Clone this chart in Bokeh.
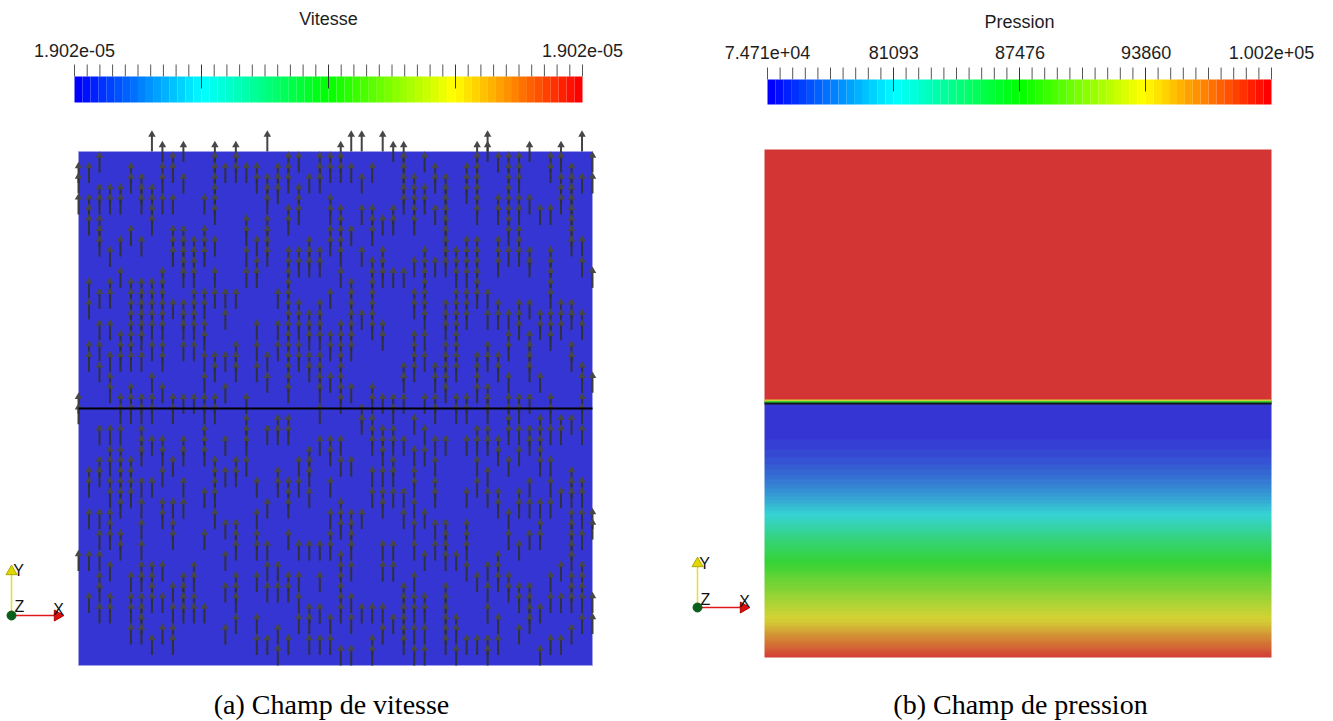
import colorsys
import numpy as np
from bokeh.plotting import figure
from bokeh.models import Range1d, LinearColorMapper
from bokeh.layouts import row
from bokeh.embed import file_html
from bokeh.resources import INLINE
from bokeh.core.properties import value

# ---------------- data ----------------
vitesse_title = "Vitesse"
vitesse_min = 1.902e-05
vitesse_max = 1.902e-05
vitesse_tick_fracs = [0.0, 1.0]
vitesse_tick_labels = ["1.902e-05", "1.902e-05"]

pression_title = "Pression"
pression_min = 74710.0
pression_max = 100200.0
pression_tick_values = [74710.0, 81093.0, 87476.0, 93860.0, 100200.0]
pression_tick_labels = ["7.471e+04", "81093", "87476", "93860", "1.002e+05"]

captions = ["(a) Champ de vitesse", "(b) Champ de pression"]

# mesh: 50 x 50 nodes on the unit square, interface at mid height
n_nodes = 50
interface_y = 0.5
arrow_len_cells = 2  # uniform |u| = 1.902e-05 -> every glyph has the same length

# tip row (counted from the top edge, -2 .. 47) of every velocity glyph, column by column
arrow_tip_rows = [
    [1, 2, 4, 23, 24, 38],
    [1, 4, 5, 6, 12, 14, 18, 19, 30, 31, 34, 38, 42],
    [0, 3, 4, 6, 7, 8, 13, 16, 18, 20, 26, 29, 30, 34, 36, 38, 40, 41, 43],
    [3, 4, 9, 12, 13, 16, 19, 21, 22, 26, 28, 29, 31, 32, 34, 35, 36, 39, 42, 43],
    [3, 4, 8, 11, 17, 18, 19, 23, 24, 26, 28, 29, 30, 31, 32, 33, 36, 37],
    [1, 2, 7, 12, 13, 14, 15, 16, 17, 18, 19, 22, 23, 24, 29, 30, 31, 32, 40, 42, 43, 45],
    [2, 3, 4, 8, 12, 13, 14, 15, 16, 17, 19, 23, 24, 26, 27, 28, 31, 33, 35, 37, 39, 40, 42, 43, 44, 45],
    [-2, 3, 4, 5, 6, 12, 13, 14, 15, 16, 18, 21, 23, 24, 27, 31, 39, 40, 41, 42, 46],
    [-1, 1, 2, 4, 11, 12, 13, 14, 15, 16, 18, 19, 22, 27, 28, 30, 33, 34, 39, 42, 45],
    [0, 1, 4, 7, 8, 9, 14, 23, 24, 29, 33, 35, 36, 41, 43, 45, 46],
    [-1, 2, 7, 8, 9, 10, 11, 14, 15, 16, 18, 23, 27, 28, 31, 33, 40, 41, 42, 43],
    [8, 9, 10, 11, 13, 14, 15, 16, 18, 23, 39, 40, 42, 43],
    [4, 7, 8, 9, 13, 14, 16, 17, 19, 21, 23, 24, 26, 27, 28, 32, 36, 43],
    [-1, 0, 1, 2, 3, 4, 5, 8, 11, 13, 19, 20, 23, 24, 29, 30, 31, 32, 34],
    [1, 13, 15, 19, 22, 27, 30, 35, 38, 41, 45],
    [-1, 0, 1, 13, 18, 19, 20, 29, 30, 35, 36, 37, 40, 41, 42, 44],
    [1, 6, 7, 9, 11, 23, 25, 26, 27, 29],
    [1, 2, 8, 10, 11, 16, 18, 20, 31, 34, 36, 37, 40, 44, 46],
    [-2, 2, 3, 4, 6, 7, 8, 9, 19, 21, 26, 33, 37, 39, 41, 46],
    [1, 2, 3, 13, 16, 18, 25, 26, 30, 31, 39, 41, 45, 47],
    [0, 1, 2, 5, 6, 9, 10, 11, 12, 13, 14, 15, 16, 17, 18, 19, 20, 21, 22, 25, 26, 31, 32, 33, 36, 40, 41, 46],
    [0, 3, 4, 5, 9, 10, 14, 15, 16, 18, 19, 29, 31, 37, 40, 42, 44],
    [2, 8, 9, 10, 15, 16, 17, 19, 20, 28, 29, 30, 32, 37, 43, 44, 46],
    [0, 1, 2, 9, 10, 14, 15, 16, 17, 19, 20, 21, 22, 24, 27, 37, 40, 43, 46],
    [0, 1, 4, 5, 7, 8, 13, 17, 18, 21, 27, 28, 31, 34, 36, 37, 44, 46],
    [-1, 0, 1, 5, 6, 7, 8, 9, 11, 16, 17, 18, 19, 20, 21, 22, 23, 27, 29, 33, 34, 35, 38, 39, 40, 41, 42, 43, 47],
    [-2, 1, 7, 12, 13, 14, 15, 16, 17, 18, 22, 29, 34, 35, 36, 37, 39, 42, 44, 47],
    [-2, 2, 5, 9, 15, 24, 25, 34, 43],
    [1, 5, 6, 7, 10, 11, 12, 13, 14, 15, 16, 22, 23, 25, 26, 27, 30, 32, 43, 46, 47],
    [-2, 6, 9, 10, 11, 16, 17, 23, 26, 27, 28, 30, 32, 33, 37, 39, 43, 45],
    [-1, 5, 6, 11, 23, 24, 26, 27, 29, 30, 32, 37, 39, 44],
    [-1, 0, 1, 2, 3, 4, 11, 20, 21, 23, 27, 32, 34, 41, 42, 43, 44, 45, 46],
    [2, 3, 4, 5, 6, 10, 13, 14, 17, 18, 19, 20, 25, 28, 30, 31, 33, 35, 37, 40, 42, 43, 45, 47],
    [0, 3, 4, 9, 10, 11, 12, 13, 14, 15, 17, 19, 23, 26, 28, 34, 38, 42, 43, 45, 47],
    [1, 2, 5, 10, 20, 21, 23, 24, 27, 29, 31, 32, 35, 37],
    [2, 3, 4, 5, 6, 7, 8, 9, 10, 14, 15, 16, 18, 19, 20, 21, 22, 27, 35, 36, 37, 38, 41, 42, 43, 44, 45, 46],
    [9, 10, 11, 13, 14, 15, 16, 17, 18, 19, 20, 23, 24, 38, 44, 45, 47],
    [1, 2, 3, 8, 9, 10, 11, 13, 14, 15, 23, 24, 27, 32, 35, 36, 37, 39, 46],
    [-1, 0, 1, 2, 3, 4, 5, 8, 9, 10, 11, 12, 13, 19, 20, 21, 22, 26, 27, 29, 31, 40, 46],
    [-2, -1, 13, 15, 18, 19, 22, 23, 24, 26, 27, 30, 32, 39, 41, 43, 46, 47],
    [0, 4, 5, 8, 9, 10, 14, 15, 19, 20, 27, 28, 32, 33, 38, 39, 40, 44, 46],
    [0, 1, 2, 3, 4, 5, 6, 7, 9, 15, 17, 18, 21, 23, 24, 25, 26, 29, 34, 36, 40, 41],
    [0, 1, 2, 4, 5, 7, 8, 9, 14, 15, 16, 23, 24, 26, 28, 32, 33, 37, 41, 42, 45],
    [-1, 4, 9, 10, 14, 17, 18, 19, 20, 23, 26, 27, 31, 33, 36, 41, 42, 43, 44],
    [5, 15, 16, 21, 25, 26, 27, 28, 29, 33, 35, 36, 43, 47],
    [0, 1, 5, 9, 10, 11, 12, 13, 15, 16, 17, 23, 24, 26, 29, 31, 33, 40, 42, 46],
    [-1, 0, 2, 3, 4, 14, 15, 16, 25, 26, 32, 39, 42, 46],
    [1, 2, 3, 4, 5, 6, 7, 8, 14, 15, 18, 19, 25, 30, 31, 32, 34, 35, 36, 37, 38, 40, 41, 42, 45],
    [-2, 2, 8, 10, 15, 16, 20, 21, 23, 24, 26, 31, 32, 34, 36, 39, 40, 41, 42, 44],
    [0, 2, 11, 21, 34, 35, 42, 44],
]

# nodal pressure of the lower fluid, one value per mesh row from the bottom (y=0) to the interface
pression_lower = [99690, 97906, 96377, 94592, 93318, 92298, 91024, 90004, 88730,
                  87455, 86180, 84906, 83377, 81847, 80573, 79298, 78279, 77259,
                  76494, 75857, 75347, 74965, 74710, 74710, 74710]
# pressure of the upper fluid (uniform)
pression_upper = [100200]
# thin transition cells just above the interface (from interface upward)
pression_interface = [87476, 93860]

# ---------------- colours ----------------
N_LUT = 64


def rainbow(n):
    out = []
    for i in range(n):
        h = (2.0 / 3.0) * (1 - i / (n - 1))
        r, g, b = colorsys.hsv_to_rgb(h, 1, 1)
        out.append((r * 255, g * 255, b * 255))
    return out


def hexc(rgb):
    return "#%02x%02x%02x" % tuple(int(round(min(255, max(0, c)))) for c in rgb)


bar_palette = [hexc(c) for c in rainbow(N_LUT)]
lit_palette = [hexc(tuple(53 + 0.62 * c for c in rgb)) for rgb in rainbow(N_LUT)]

PAGE_TOP = 0
FIG_H = 721
SANS = value("Liberation Sans")
SERIF = value("Liberation Serif")


def make_panel(left, width, X0, X1, Ytop, Ybot):
    sx = float(X1 - X0)
    sy = float(Ybot - Ytop)

    def fx(px):
        return (px - X0) / sx

    def fy(py):
        return (Ybot - py) / sy

    p = figure(width=width, height=FIG_H,
               x_range=Range1d(fx(left), fx(left + width)),
               y_range=Range1d(fy(PAGE_TOP + FIG_H), fy(PAGE_TOP)),
               x_axis_type=None, y_axis_type=None, toolbar_location=None,
               output_backend="svg", min_border=0)
    p.outline_line_color = None
    p.background_fill_color = "white"
    p.border_fill_color = "white"
    return p, fx, fy


def draw_colorbar(p, fx, fy, bx0, bx1, by0, by1, title, title_y,
                  tick_fracs, tick_labels, label_y):
    n = len(bar_palette)
    edges = np.linspace(fx(bx0), fx(bx1), n + 1)
    p.quad(left=edges[:-1], right=edges[1:], bottom=fy(by1), top=fy(by0),
           fill_color=bar_palette, line_color=None)
    nt = 41
    tx = np.linspace(fx(bx0), fx(bx1), nt)
    minor = [i for i in range(nt) if i % 10 or i in (0, nt - 1)]
    major = [10, 20, 30]
    p.segment(x0=tx[minor], y0=fy(by0 - 12), x1=tx[minor], y1=fy(by0),
              line_color="#555555", line_width=1)
    p.segment(x0=tx[major], y0=fy(by0 - 12), x1=tx[major], y1=fy(by0 + 12),
              line_color="#333333", line_width=1)
    lx = [fx(bx0 + f * (bx1 - bx0)) for f in tick_fracs]
    p.text(x=lx, y=[fy(label_y)] * len(lx), text=tick_labels,
           text_font=SANS, text_font_size="18px", text_color="#1e1e1e",
           text_align="center", text_baseline="middle")
    p.text(x=[fx((bx0 + bx1) / 2)], y=[fy(title_y)], text=[title],
           text_font=SANS, text_font_size="18px", text_color="#1e1e1e",
           text_align="center", text_baseline="middle")


def draw_triad(p, fx, fy, ox, oy, xlen, ylen, lx, ly, lz):
    p.segment(x0=[fx(ox)], y0=[fy(oy)], x1=[fx(ox + xlen - 8)], y1=[fy(oy)],
              line_color="#e01818", line_width=1.5)
    p.scatter(x=[fx(ox + xlen - 5)], y=[fy(oy)], marker="triangle", size=11,
              angle=-np.pi / 2, fill_color="#dd1010", line_color="#b00000")
    p.segment(x0=[fx(ox)], y0=[fy(oy)], x1=[fx(ox)], y1=[fy(oy - ylen + 8)],
              line_color="#e8e020", line_width=1.5)
    p.scatter(x=[fx(ox)], y=[fy(oy - ylen + 5)], marker="triangle", size=11,
              fill_color="#e0d800", line_color="#b0a800")
    p.scatter(x=[fx(ox)], y=[fy(oy)], marker="circle", size=9,
              fill_color="#0b5e1b", line_color="#0b5e1b")
    p.text(x=[fx(lx[0]), fx(ly[0]), fx(lz[0])], y=[fy(lx[1]), fy(ly[1]), fy(lz[1])],
           text=["X", "Y", "Z"], text_font=SANS, text_font_size="16px",
           text_color="#111111", text_align="center", text_baseline="middle")


# ================= left panel : velocity =================
pL, fxL, fyL = make_panel(0, 666, 78, 592, 151, 665)
dom_blue = lit_palette[0]
pL.quad(left=0, right=1, bottom=0, top=1, fill_color=dom_blue,
        line_color="#a2a2e6", line_width=1)

h = 1.0 / (n_nodes - 1)
ax, ay0, ay1, hy = [], [], [], []
head_px = 4.0 / 514
for i, tips in enumerate(arrow_tip_rows):
    for k in tips:
        yt = 1 - k * h
        ax.append(i * h)
        ay0.append(yt - arrow_len_cells * h)
        ay1.append(yt - head_px)
        hy.append(yt - head_px)
pL.segment(x0=ax, y0=ay0, x1=ax, y1=ay1, line_color="#303030",
           line_width=2.0, line_alpha=0.9)
pL.scatter(x=ax, y=hy, marker="triangle", size=7.5, fill_color="#474747",
           line_color=None)
pL.segment(x0=[0], y0=[interface_y], x1=[1], y1=[interface_y],
           line_color="black", line_width=2)

draw_colorbar(pL, fxL, fyL, 74, 582, 76, 102, vitesse_title, 18,
              vitesse_tick_fracs, vitesse_tick_labels, 50)
draw_triad(pL, fxL, fyL, 11, 615, 51, 49, (58, 609), (18, 570), (19, 606))
pL.text(x=[fxL(331)], y=[fyL(704)], text=[captions[0]], text_font=SERIF,
        text_font_size="28px", text_color="black", text_align="center",
        text_baseline="middle")

# ================= right panel : pressure =================
pR, fxR, fyR = make_panel(666, 666, 764, 1271, 149, 657)
mapper = LinearColorMapper(palette=lit_palette, low=pression_min, high=pression_max)

# Gouraud-style shading of the nodal values between mesh rows (render-time only)
node_y = np.linspace(0, interface_y, len(pression_lower))
shade_y = np.linspace(0, interface_y, 256)
low_img = np.interp(shade_y, node_y, np.array(pression_lower, dtype=float)).reshape(-1, 1)
up_img = np.array(pression_upper, dtype=float).reshape(len(pression_upper), 1)
pR.image(image=[low_img], x=0, y=0, dw=1, dh=interface_y, color_mapper=mapper)
pR.image(image=[up_img], x=0, y=interface_y, dw=1, dh=1 - interface_y,
         color_mapper=mapper)

band_px = [2.5, 1.5]
y_cur = interface_y
for pv, th in zip(pression_interface, band_px):
    t = (pv - pression_min) / (pression_max - pression_min)
    col = lit_palette[min(N_LUT - 1, int(t * N_LUT))]
    pR.quad(left=0, right=1, bottom=y_cur, top=y_cur + th / 508.0,
            fill_color=col, line_color=None)
    y_cur += th / 508.0
pR.segment(x0=[0], y0=[interface_y], x1=[1], y1=[interface_y],
           line_color="#101818", line_width=2)

pfr = [(v - pression_min) / (pression_max - pression_min) for v in pression_tick_values]
draw_colorbar(pR, fxR, fyR, 767, 1271, 79, 104, pression_title, 21,
              pfr, pression_tick_labels, 52)
draw_triad(pR, fxR, fyR, 697, 607, 51, 49, (744, 601), (704, 563), (705, 599))
pR.text(x=[fxR(1020)], y=[fyR(704)], text=[captions[1]], text_font=SERIF,
        text_font_size="28px", text_color="black", text_align="center",
        text_baseline="middle")

layout = row(pL, pR)
open("out.html", "w").write(file_html(layout, INLINE))
